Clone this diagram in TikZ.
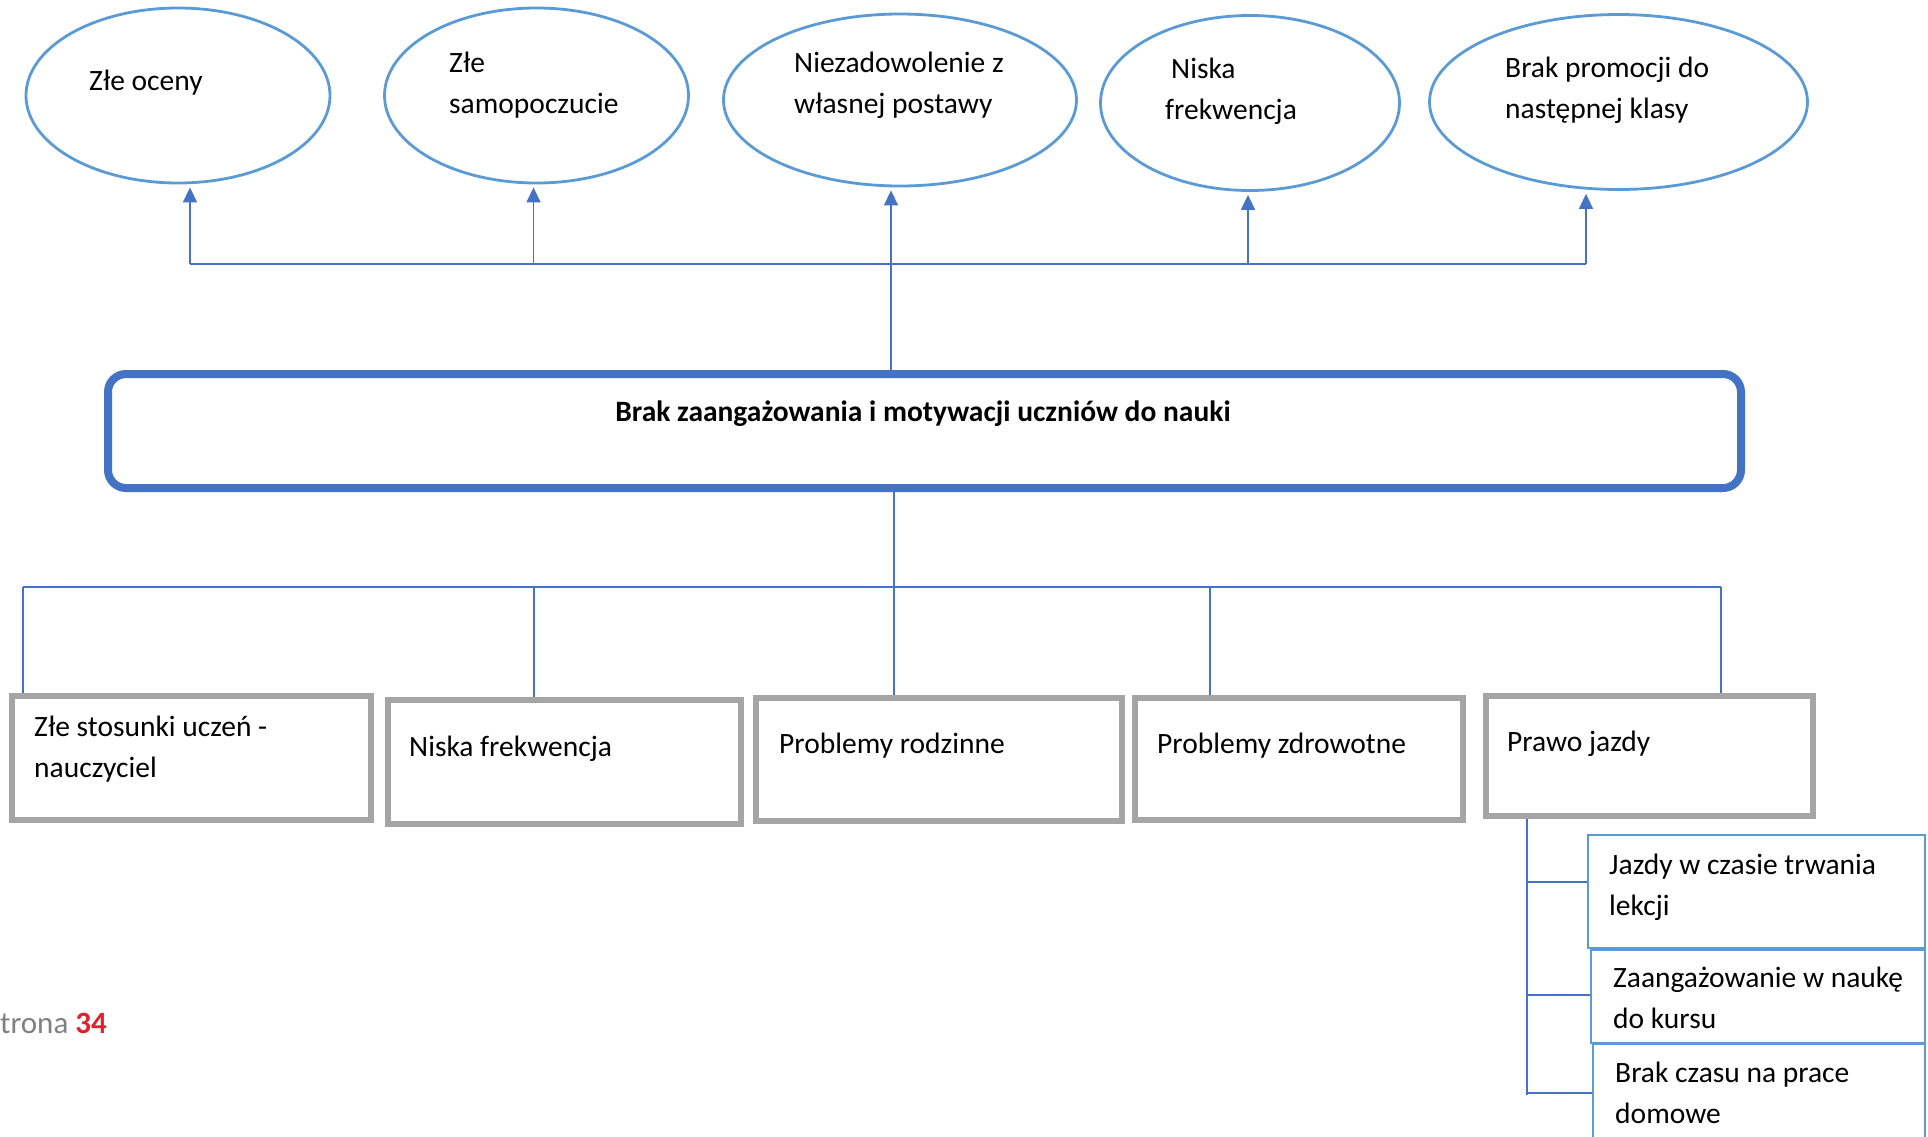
\documentclass[tikz,border=0pt]{standalone}
\usepackage{fontspec}
\setmainfont{Carlito}
\usetikzlibrary{arrows.meta,shapes.geometric}
\definecolor{ellblue}{HTML}{5B9BD5}
\definecolor{darkblue}{HTML}{4472C4}
\definecolor{boxgray}{HTML}{A5A5A5}
\definecolor{pagered}{HTML}{E2212B}
\definecolor{pagegray}{HTML}{808080}
\begin{document}
\begin{tikzpicture}[x=1pt,y=-1pt,
  ell/.style={ellipse,draw=ellblue,line width=2.8pt,inner sep=0pt},
  gbox/.style={rectangle,draw=boxgray,line width=6pt,inner sep=0pt},
  sbox/.style={rectangle,draw=ellblue,line width=2.5pt,inner sep=0pt},
  mainbox/.style={rectangle,rounded corners=18pt,draw=darkblue,line width=8pt,inner sep=0pt},
  txt/.style={anchor=base west,inner sep=0pt,font=\fontsize{29.5}{41}\selectfont,align=left},
  conn/.style={draw=darkblue,line width=1.5pt},
  arr/.style={conn,-{Triangle[width=14pt,length=15pt]},shorten >=3pt},
]
\useasboundingbox (0,0) rectangle (1928,1136);
\fill[white] (0,0) rectangle (1928,1136);

% top ellipses
\node[ell,minimum width=304pt,minimum height=175pt] (e1) at (178,95.5) {};
\node[ell,minimum width=304pt,minimum height=175pt] (e2) at (536.5,95.5) {};
\node[ell,minimum width=353pt,minimum height=172pt] (e3) at (900,100) {};
\node[ell,minimum width=299pt,minimum height=175pt] (e4) at (1250,103) {};
\node[ell,minimum width=378pt,minimum height=175pt] (e5) at (1618.5,102) {};
% (multi-line texts are placed by the baseline of their last line)
\node[txt] (te1) at (89,90) {Złe oceny};
\node[txt] (te2) at (449,113) {Złe\\samopoczucie};
\node[txt] (te3) at (794,113) {Niezadowolenie z\\własnej postawy};
\node[txt] (te4) at (1165,119) {\hspace*{6pt}Niska\\frekwencja};
\node[txt] (te5) at (1505,118) {Brak promocji do\\następnej klasy};

% main box
\node[mainbox,minimum width=1633pt,minimum height=114pt] (main) at (924.5,431) {};
\node[anchor=base,inner sep=0pt,font=\fontsize{29.5}{41}\selectfont\bfseries] (mt) at (923,421) {Brak zaangażowania i motywacji uczniów do nauki};

% gray boxes
\node[gbox,minimum width=359pt,minimum height=124pt] (b1) at (191.5,758) {};
\node[gbox,minimum width=353pt,minimum height=124pt] (b2) at (564.5,762) {};
\node[gbox,minimum width=366pt,minimum height=123pt] (b3) at (939,759.5) {};
\node[gbox,minimum width=328pt,minimum height=122pt] (b4) at (1299,759) {};
\node[gbox,minimum width=327pt,minimum height=120pt] (b5) at (1649.5,756) {};
\node[txt] (tb1) at (34,777) {Złe stosunki uczeń -\\nauczyciel};
\node[txt] (tb2) at (409,756) {Niska frekwencja};
\node[txt] (tb3) at (779,753) {Problemy rodzinne};
\node[txt] (tb4) at (1157,753) {Problemy zdrowotne};
\node[txt] (tb5) at (1507,751) {Prawo jazdy};

% small blue boxes
\node[sbox,minimum width=337pt,minimum height=113pt] (s1) at (1756.5,891.5) {};
\node[sbox,minimum width=334pt,minimum height=93pt] (s2) at (1758,996.5) {};
\node[sbox,minimum width=332pt,minimum height=100pt] (s3) at (1759,1094) {};
\node[txt] (ts1) at (1609,915) {Jazdy w czasie trwania\\lekcji};
\node[txt] (ts2) at (1613,1028) {Zaangażowanie w naukę\\do kursu};
\node[txt] (ts3) at (1615,1123) {Brak czasu na prace\\domowe};

% footer
\node[anchor=base west,inner sep=0pt,font=\fontsize{31}{38}\selectfont,text=pagegray] (foot) at (0,1033) {trona \textcolor{pagered}{\bfseries 34}};

% top connectors
\coordinate (tl) at (190,264);
\coordinate (t2) at (533.5,264);
\coordinate (t3) at (891,264);
\coordinate (t4) at (1248,264);
\coordinate (tr) at (1586,264);
\draw[conn] (tl) -- (tr);
\draw[arr] (tl) -- (tl |- e1.south);
\draw[arr] (t2) -- (t2 |- e2.south);
\draw[arr] (t3 |- main.north) -- (t3 |- e3.south);
\draw[arr] (t4) -- (t4 |- e4.south);
\draw[arr] (tr) -- (tr |- e5.south);

% lower connectors
\coordinate (mb) at (894,587);
\coordinate (bl) at (23,587);
\coordinate (v2) at (534,587);
\coordinate (v4) at (1210,587);
\coordinate (br) at (1721,587);
\draw[conn] (mb |- main.south) -- (mb |- b3.north);
\draw[conn] (bl) -- (br);
\draw[conn] (bl) -- (bl |- b1.north);
\draw[conn] (v2) -- (v2 |- b2.north);
\draw[conn] (v4) -- (v4 |- b4.north);
\draw[conn] (br) -- (br |- b5.north);

% sub connectors
\coordinate (sv) at (1527,1095);
\coordinate (c1) at (1527,882);
\coordinate (c2) at (1527,995);
\coordinate (c3) at (1527,1093);
\draw[conn] (sv |- b5.south) -- (sv);
\draw[conn] (c1) -- (c1 -| s1.west);
\draw[conn] (c2) -- (c2 -| s2.west);
\draw[conn] (c3) -- (c3 -| s3.west);
\end{tikzpicture}
\end{document}
